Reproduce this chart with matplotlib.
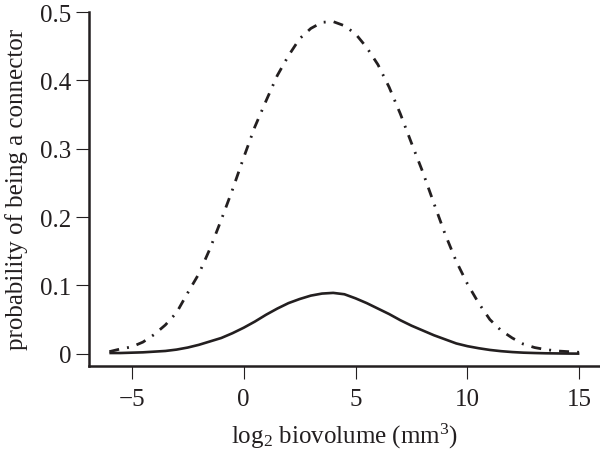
import matplotlib
matplotlib.use("Agg")
import matplotlib.pyplot as plt

plt.rcParams['font.family'] = ['Liberation Serif', 'DejaVu Serif']
plt.rcParams['mathtext.fontset'] = 'custom'
plt.rcParams['mathtext.rm'] = 'Liberation Serif'
plt.rcParams['mathtext.it'] = 'Liberation Serif:italic'
plt.rcParams['mathtext.default'] = 'rm'

# log2 biovolume sample positions
x_vals = [-6, -5.5, -5, -4.5, -4, -3.5, -3, -2.5, -2, -1.5, -1, -0.5, 0, 0.5, 1, 1.5,
          2, 2.5, 3, 3.5, 4, 4.5, 5, 5.5, 6, 6.5, 7, 7.5, 8, 8.5, 9, 9.5, 10, 10.5,
          11, 11.5, 12, 12.5, 13, 13.5, 14, 14.5, 15]

# solid curve
solid_vals = [0.001, 0.001, 0.0015, 0.002, 0.003, 0.004, 0.006, 0.009, 0.013, 0.018,
              0.023, 0.030, 0.038, 0.047, 0.057, 0.066, 0.074, 0.080, 0.085, 0.088,
              0.089, 0.087, 0.081, 0.074, 0.066, 0.058, 0.049, 0.041, 0.034, 0.027,
              0.021, 0.015, 0.011, 0.008, 0.0055, 0.0037, 0.0024, 0.0015, 0.001,
              0.0006, 0.0004, 0.0002, 0.0001]

# dash-dot curve
dashdot_vals = [0.003, 0.007, 0.010, 0.017, 0.028, 0.042, 0.060, 0.089, 0.117, 0.154,
                0.196, 0.240, 0.287, 0.332, 0.370, 0.407, 0.436, 0.461, 0.476, 0.485,
                0.486, 0.480, 0.468, 0.448, 0.423, 0.390, 0.351, 0.308, 0.266, 0.220,
                0.175, 0.135, 0.102, 0.074, 0.050, 0.034, 0.023, 0.014, 0.009, 0.006,
                0.004, 0.003, 0.002]

x_ticks = [-5, 0, 5, 10, 15]
x_ticklabels = ['\u22125', '0', '5', '10', '15']
y_ticks = [0, 0.1, 0.2, 0.3, 0.4, 0.5]
y_ticklabels = ['0', '0.1', '0.2', '0.3', '0.4', '0.5']

ink = '#231f20'

fig = plt.figure(figsize=(6, 4.56), dpi=100)
ax = fig.add_axes([89/600, (456-367)/456, 511/600, (367-11)/456])

ax.plot(x_vals, dashdot_vals, color=ink, lw=2.0,
        linestyle=(0, (3.6, 2.9, 0.7, 2.9)), dash_capstyle='butt')
ax.plot(x_vals, solid_vals, color=ink, lw=1.9, solid_capstyle='butt')

ax.set_xlim(-6.91, 15.92)
ax.set_ylim(-0.018, 0.503)

for s in ['top', 'right']:
    ax.spines[s].set_visible(False)
for s in ['left', 'bottom']:
    ax.spines[s].set_linewidth(1.8)
    ax.spines[s].set_color(ink)
ax.spines['left'].set_bounds(-0.018, 0.5)

ax.set_xticks(x_ticks)
ax.set_xticklabels(x_ticklabels)
ax.set_yticks(y_ticks)
ax.set_yticklabels(y_ticklabels)
ax.tick_params(axis='both', direction='out', length=9.5, width=0.8, color=ink,
               labelsize=18, labelcolor=ink)
ax.tick_params(axis='x', pad=6)
ax.tick_params(axis='y', pad=3)

ax.set_xlabel('log$_2$ biovolume (mm$^3$)', fontsize=18, color=ink, labelpad=8)
ax.set_ylabel('probability of being a connector', fontsize=18, color=ink, labelpad=9)

fig.savefig('out.png', dpi=100)
